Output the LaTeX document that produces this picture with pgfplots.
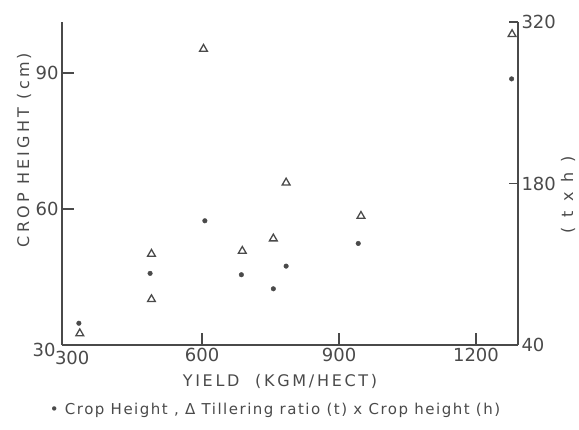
\documentclass[border=0pt]{standalone}
\usepackage{pgfplots}
\pgfplotsset{compat=1.18}
\usepackage{fontspec}
\setmainfont{DejaVu Sans}
\definecolor{ink}{HTML}{4A4A4A}
\begin{document}
\begin{tikzpicture}[x=1pt,y=1pt]
\path[use as bounding box] (-62,-84) rectangle (517,345);
\begin{axis}[
 at={(0,0)}, anchor=south west,
 scale only axis, width=456pt, height=323pt,
 xmin=293, xmax=1292, ymin=30, ymax=101.25,
 axis x line=bottom, axis y line=left,
 axis line style={-, ink, line width=1.5pt},
 xtick={600,900,1200}, ytick={60,90},
 extra x ticks={300}, extra y ticks={30},
 extra x tick style={major tick length=0pt, xticklabel style={xshift=7pt, yshift=-3pt}},
 extra y tick style={major tick length=0pt, yticklabel style={yshift=-5pt, xshift=-3pt}},
 tick align=inside, major tick length=12pt,
 tick style={ink, line width=1.4pt},
 ticklabel style={font=\fontsize{18}{18}\selectfont, text=ink},
 /pgf/number format/assume math mode=true,
 /pgf/number format/1000 sep={},
 clip=false,
]
\addplot[only marks, mark=*, mark size=2.3pt, color=ink] coordinates {
 (330,34.8) (486,45.8) (606,57.4) (686,45.5) (756,42.4) (784,47.4) (942,52.4) (1278,88.7)
};
\end{axis}
\begin{axis}[
 at={(0,0)}, anchor=south west,
 scale only axis, width=456pt, height=323pt,
 xmin=293, xmax=1292, ymin=40, ymax=320,
 axis x line=none, axis y line=right,
 axis line style={-, ink, line width=1.5pt},
 ytick={40,180,320},
 tick align=inside, major tick length=9pt,
 tick style={ink, line width=1.4pt},
 ticklabel style={font=\fontsize{18}{18}\selectfont, text=ink},
 /pgf/number format/assume math mode=true,
 clip=false,
]
\addplot[only marks, mark=triangle, mark size=4.5pt, color=ink, mark options={line width=1.3pt}] coordinates {
 (332,50) (489,118.9) (489,79.6) (688,121.5) (756,132.2) (784,180.7) (948,151.8) (603,296.6) (1279,309.4)
};
\end{axis}
\node[rotate=90, text=ink, font=\fontsize{16}{16}\selectfont\addfontfeature{LetterSpace=20}] at (-38,195) {CROP HEIGHT (cm)};
\node[rotate=90, text=ink, font=\fontsize{16}{16}\selectfont\addfontfeature{LetterSpace=30}] at (506,150) {( t x h )};
\node[text=ink, font=\fontsize{16}{16}\selectfont\addfontfeature{LetterSpace=17}] at (218,-36) {YIELD\ \ (KGM/HECT)};
\node[text=ink, font=\fontsize{15}{15}\selectfont\addfontfeature{LetterSpace=10}] at (213,-65) {• Crop Height , Δ Tillering ratio (t) x Crop height (h)};
\end{tikzpicture}
\end{document}
